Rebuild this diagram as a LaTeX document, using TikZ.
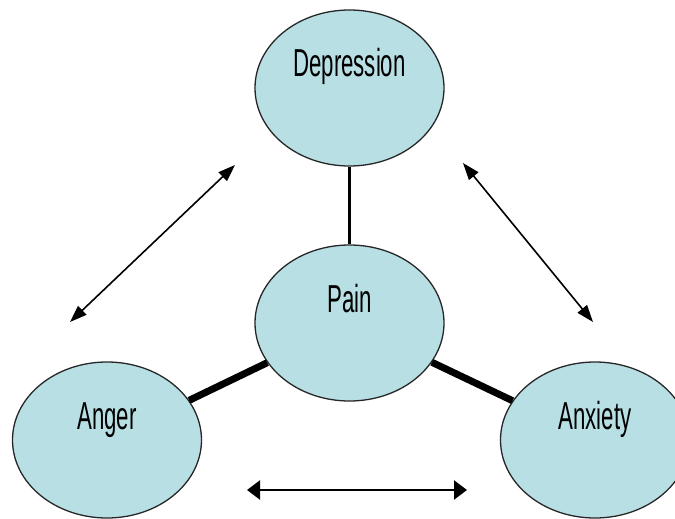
\documentclass[tikz,border=0pt]{standalone}
\usepackage{fontspec}
\setmainfont{Liberation Sans}
\usetikzlibrary{shapes.geometric,arrows.meta}
\definecolor{moodfill}{RGB}{184,223,227}
\newcommand{\narrowword}[1]{\scalebox{0.57}[1]{#1}}
\tikzstyle{mood}=[ellipse, draw=black!85, line width=1.3pt, fill=moodfill, minimum width=189pt, minimum height=156pt, inner sep=0pt, font=\fontsize{39}{41}\selectfont, text height=28pt, text depth=50pt]
\tikzstyle{link}=[line width=7pt]
\tikzstyle{twoway}=[{Triangle[length=17pt,width=12pt]}-{Triangle[length=17pt,width=12pt]}, line width=1.6pt]

\begin{document}
\begin{tikzpicture}[x=1pt,y=-1pt]
	\useasboundingbox (0,0) rectangle (675,519);
	\node[mood] (depression) at (349.5,88) {\narrowword{Depression}};
	\node[mood] (pain) at (349.5,323) {\narrowword{Pain}};
	\node[mood] (anger) at (107,440) {\narrowword{Anger}};
	\node[mood] (anxiety) at (595,440) {\narrowword{Anxiety}};
	\draw[line width=3.5pt] (depression) -- (pain);
	\draw[link] (pain) -- (anger);
	\draw[link] (pain) -- (anxiety);
	% arrows between the outer feelings
	\coordinate (angerup) at (70,322);
	\coordinate (deprleft) at (235,165);
	\coordinate (deprright) at (463,163);
	\coordinate (anxup) at (593,322);
	\coordinate (angerright) at (247,490);
	\coordinate (anxleft) at (467,490);
	\draw[twoway] (angerup) -- (deprleft);
	\draw[twoway] (deprright) -- (anxup);
	\draw[twoway, line width=2.5pt, {Triangle[length=13pt,width=19pt]}-{Triangle[length=13pt,width=19pt]}] (angerright) -- (anxleft);
\end{tikzpicture}
\end{document}
